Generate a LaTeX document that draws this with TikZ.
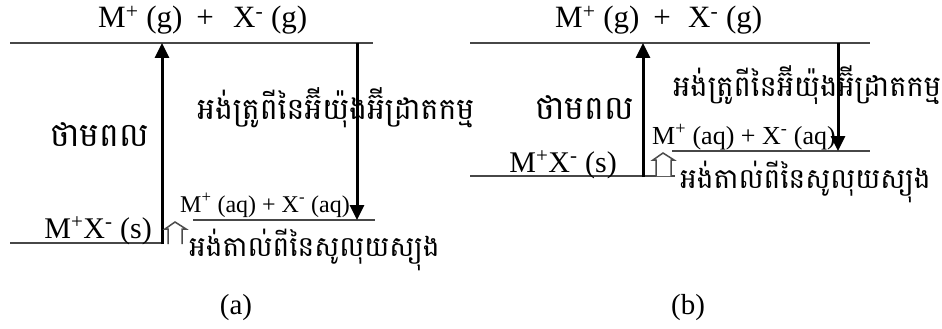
\documentclass[tikz,border=0pt]{standalone}
\usepackage{fontspec}
\setmainfont{Liberation Serif}
\newfontfamily\khmer[Script=Khmer]{Battambang}
\usetikzlibrary{arrows.meta}
\tikzset{
  level/.style={line width=1.6pt, draw=black!72},
  energy/.style={line width=3pt, -{Triangle[length=15pt,width=14pt]}},
  hollow/.style={line width=1.5pt, draw=black!70, fill=white},
  bigtxt/.style={font=\fontsize{31}{34}\selectfont, inner sep=0pt},
  soltxt/.style={font=\fontsize{30}{33}\selectfont, inner sep=0pt},
  aqtxt/.style={font=\fontsize{24}{27}\selectfont, inner sep=0pt},
  aqtxtb/.style={font=\fontsize{26}{29}\selectfont, inner sep=0pt},
  khbig/.style={font=\khmer\fontsize{33}{36}\selectfont, inner sep=0pt},
  khtxt/.style={font=\khmer\fontsize{28}{31}\selectfont, inner sep=0pt},
  khtxta/.style={font=\khmer\fontsize{30}{33}\selectfont, inner sep=0pt},
  khtxtb/.style={font=\khmer\fontsize{29}{32}\selectfont, inner sep=0pt},
  captxt/.style={font=\fontsize{29}{32}\selectfont, inner sep=0pt}
}
\begin{document}
\begin{tikzpicture}[x=1pt,y=-1pt]
\useasboundingbox (0,0) rectangle (942,329);
% ---------- panel (a) ----------
\coordinate (aTL) at (10,43);
\coordinate (aTR) at (373,43);
\coordinate (aBL) at (10,243);
\coordinate (aBR) at (162,243);
\coordinate (aSL) at (193,220);
\coordinate (aSR) at (375,220);
\coordinate (aUp0) at (162,244);
\coordinate (aUp1) at (162,43);
\coordinate (aDn0) at (357,43);
\coordinate (aDn1) at (357,220);
\draw[level] (aTL) -- (aTR);
\draw[level] (aBL) -- (aBR);
\draw[level] (aSL) -- (aSR);
\draw[energy] (aUp0) -- (aUp1);
\draw[energy] (aDn0) -- (aDn1);
\draw[hollow] (168,244) -- (168,229) -- (165,229) -- (175,222) -- (186,229) -- (182,229) -- (182,244);
\node[bigtxt, anchor=base west] (agasM) at (98,28) {M\textsuperscript{+} (g)};
\node[bigtxt, anchor=base] (agasP) at (205,28) {+};
\node[bigtxt, anchor=base west] (agasX) at (233,28) {X\textsuperscript{-} (g)};
\node[soltxt, anchor=base east] (asolid) at (152,238) {M\textsuperscript{+}X\textsuperscript{-} (s)};
\node[aqtxt, anchor=base west] (aaq) at (180,212) {M\textsuperscript{+} (aq) + X\textsuperscript{-} (aq)};
\node[khbig, anchor=west] (alat) at (50,135) {ថាមពល};
\node[khtxta, anchor=west] (ahyd) at (197,108) {អង់ត្រូពីនៃអ៊ីយ៉ុងអ៊ីដ្រាតកម្ម};
\node[khtxt, anchor=west] (asol) at (189,250) {អង់តាល់ពីនៃសូលុយស្យុង};
\node[captxt] (acap) at (236,308) {(a)};
% ---------- panel (b) ----------
\coordinate (bTL) at (470,43);
\coordinate (bTR) at (870,43);
\coordinate (bBL) at (470,176);
\coordinate (bBR) at (675,176);
\coordinate (bSL) at (672,151);
\coordinate (bSR) at (870,151);
\coordinate (bUp0) at (643,177);
\coordinate (bUp1) at (643,43);
\coordinate (bDn0) at (838,43);
\coordinate (bDn1) at (838,151);
\draw[level] (bTL) -- (bTR);
\draw[level] (bBL) -- (bBR);
\draw[level] (bSL) -- (bSR);
\draw[energy] (bUp0) -- (bUp1);
\draw[energy] (bDn0) -- (bDn1);
\draw[hollow] (656,176) -- (656,160) -- (653,160) -- (663,153) -- (674,160) -- (671,160) -- (671,176);
\node[bigtxt, anchor=base west] (bgasM) at (555,28) {M\textsuperscript{+} (g)};
\node[bigtxt, anchor=base] (bgasP) at (662,28) {+};
\node[bigtxt, anchor=base west] (bgasX) at (688,28) {X\textsuperscript{-} (g)};
\node[soltxt, anchor=base east] (bsolid) at (617,172) {M\textsuperscript{+}X\textsuperscript{-} (s)};
\node[aqtxtb, anchor=base west] (baq) at (652,144) {M\textsuperscript{+} (aq) + X\textsuperscript{-} (aq)};
\node[khbig, anchor=west] (blat) at (535,108) {ថាមពល};
\node[khtxtb, anchor=west] (bhyd) at (673,85) {អង់ត្រូពីនៃអ៊ីយ៉ុងអ៊ីដ្រាតកម្ម};
\node[khtxt, anchor=west] (bsol) at (680,182) {អង់តាល់ពីនៃសូលុយស្យុង};
\node[captxt] (bcap) at (688,308) {(b)};
\end{tikzpicture}
\end{document}
